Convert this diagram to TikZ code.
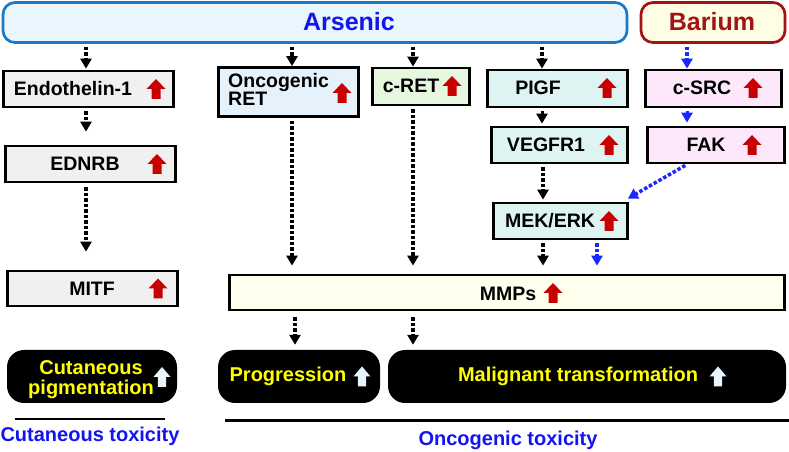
\documentclass[tikz,border=0pt]{standalone}
\usepackage{fontspec}
\setmainfont{Liberation Sans}
\usetikzlibrary{arrows.meta}
\usetikzlibrary{calc}

\definecolor{arsline}{RGB}{30,120,200}
\definecolor{arsfill}{RGB}{234,246,253}
\definecolor{arstext}{RGB}{20,20,240}
\definecolor{baline}{RGB}{160,20,20}
\definecolor{bafill}{RGB}{255,253,228}
\definecolor{grayfill}{RGB}{240,240,240}
\definecolor{retfill}{RGB}{230,242,251}
\definecolor{cretfill}{RGB}{229,247,222}
\definecolor{cyanfill}{RGB}{222,244,242}
\definecolor{pinkfill}{RGB}{252,232,250}
\definecolor{mmpfill}{RGB}{255,255,238}
\definecolor{upred}{RGB}{200,0,0}
\definecolor{upwhite}{RGB}{232,244,252}
\definecolor{outyellow}{RGB}{255,255,0}
\definecolor{arrblue}{RGB}{25,40,255}

\begin{document}
\begin{tikzpicture}[x=1pt,y=1pt,
    box/.style={draw,line width=2.7pt,inner sep=0pt,minimum height=36pt},
    lbl/.style={font=\fontsize{19.5}{18}\selectfont\bfseries,inner sep=0pt,text height=14pt,text depth=0pt},
    blk/.style={fill=black,rounded corners=17pt,inner sep=0pt,minimum height=53pt},
    ylbl/.style={font=\fontsize{20}{19.5}\selectfont\bfseries,text=outyellow,inner sep=0pt,align=center},
    toxlbl/.style={font=\fontsize{20}{20}\selectfont\bfseries,text=arstext,inner sep=0pt},
    dotarr/.style={line width=3.5pt,dash pattern=on 3.5pt off 2pt,-{Triangle[width=11pt,length=10pt]}},
    solarr/.style={line width=3pt,-{Triangle[width=11pt,length=10pt]}},
    uparr/.pic={\path[pic actions] (-4.5,-10) -- (-4.5,0) -- (-9.5,0) -- (0,10) -- (9.5,0) -- (4.5,0) -- (4.5,-10) -- cycle;}]
  \useasboundingbox (0,0) rectangle (789,452);

  % sources
  \node[box,draw=arsline,fill=arsfill,rounded corners=12pt,minimum width=624pt,minimum height=40pt] (arsenic) at (315,429.5) {};
  \node[font=\fontsize{25}{25}\selectfont\bfseries,text=arstext,inner sep=0pt] (arsenic-t) at (349,430) {Arsenic};
  \node[box,draw=baline,fill=bafill,rounded corners=12pt,minimum width=144pt,minimum height=40pt] (barium) at (713,429.5) {};
  \node[font=\fontsize{25}{25}\selectfont\bfseries,text=baline,inner sep=0pt] (barium-t) at (712,430) {Barium};

  % first row
  \node[box,fill=grayfill,minimum width=170pt] (edn) at (88.5,363) {};
  \node[lbl] (edn-t) at (73,363) {Endothelin-1};
  \pic[fill=upred] at (156,363) {uparr};
  \node[box,fill=retfill,minimum width=140pt,minimum height=49pt] (oret) at (288.5,360) {};
  \node[font=\fontsize{19.5}{18}\selectfont\bfseries,inner sep=0pt,align=left,anchor=west] (oret-t) at (228,363) {Oncogenic\\RET};
  \pic[fill=upred] at (342,359) {uparr};
  \node[box,fill=cretfill,minimum width=97pt,minimum height=37pt] (cret) at (421,365.5) {};
  \node[lbl] (cret-t) at (411,366) {c-RET};
  \pic[fill=upred] at (452,366) {uparr};
  \node[box,fill=cyanfill,minimum width=140pt,minimum height=37pt] (pigf) at (557.5,363.5) {};
  \node[lbl] (pigf-t) at (538,364) {PIGF};
  \pic[fill=upred] at (607,364) {uparr};
  \node[box,fill=pinkfill,minimum width=136pt,minimum height=37pt] (csrc) at (713.5,363.5) {};
  \node[lbl] (csrc-t) at (702,364) {c-SRC};
  \pic[fill=upred] at (753,364) {uparr};

  % second row
  \node[box,fill=grayfill,minimum width=170pt] (ednrb) at (90.5,288) {};
  \node[lbl] (ednrb-t) at (85,288) {EDNRB};
  \pic[fill=upred] at (157,288) {uparr};
  \node[box,fill=cyanfill,minimum width=136pt] (vegfr) at (559.5,307) {};
  \node[lbl] (vegfr-t) at (546,307) {VEGFR1};
  \pic[fill=upred] at (609,307) {uparr};
  \node[box,fill=pinkfill,minimum width=137pt] (fak) at (716,307) {};
  \node[lbl] (fak-t) at (706,307) {FAK};
  \pic[fill=upred] at (752,307) {uparr};
  \node[box,fill=cyanfill,minimum width=134pt] (mek) at (560.5,231) {};
  \node[lbl] (mek-t) at (550,231) {MEK/ERK};
  \pic[fill=upred] at (609,231) {uparr};

  % third row
  \node[box,fill=grayfill,minimum width=170pt,minimum height=35pt] (mitf) at (92.5,163.5) {};
  \node[lbl] (mitf-t) at (92,163.5) {MITF};
  \pic[fill=upred] at (158,163.5) {uparr};
  \node[box,fill=mmpfill,minimum width=555pt,minimum height=35pt] (mmps) at (507,159.5) {};
  \node[lbl] (mmps-t) at (508,158) {MMPs};
  \pic[fill=upred] at (553,159) {uparr};

  % outcomes
  \node[blk,minimum width=170pt] (pigm) at (92,75.5) {};
  \node[ylbl] (pigm-t) at (91,72.5) {Cutaneous\\pigmentation};
  \pic[fill=upwhite,xscale=0.9] at (162,75) {uparr};
  \node[blk,minimum width=162pt] (prog) at (299,75.5) {};
  \node[ylbl] (prog-t) at (288,75.5) {Progression};
  \pic[fill=upwhite,xscale=0.9] at (362,75.5) {uparr};
  \node[blk,minimum width=398pt] (malig) at (587,75.5) {};
  \node[ylbl] (malig-t) at (578,75.5) {Malignant transformation};
  \pic[fill=upwhite,xscale=0.9] at (718,75.5) {uparr};

  \draw[line width=2.5pt] (15,33) -- (165,33);
  \draw[line width=3pt] (225,31) -- (789,31);
  \node[toxlbl] (cuttox) at (90,16) {Cutaneous toxicity};
  \node[toxlbl] (onctox) at (508,12) {Oncogenic toxicity};

  % connectors
  \path[dotarr,shorten <=3pt,shorten >=1pt] ([xshift=-2.5pt]arsenic.south -| edn.north) edge ([xshift=-2.5pt]edn.north);
  \path[dotarr,shorten <=3pt] ([xshift=3.5pt]arsenic.south -| oret.north) edge ([xshift=3.5pt]oret.north);
  \path[dotarr,shorten <=3pt] ([xshift=-8pt]arsenic.south -| cret.north) edge ([xshift=-8pt]cret.north);
  \path[dotarr,shorten <=3pt] ([xshift=-15.5pt]arsenic.south -| pigf.north) edge ([xshift=-15.5pt]pigf.north);
  \path[dotarr,arrblue,shorten <=3pt] ([xshift=-26.5pt]barium.south -| csrc.north) edge ([xshift=-26.5pt]csrc.north);

  \path[dotarr,shorten <=3pt,shorten >=13pt] ([xshift=-2.5pt]edn.south) edge ([xshift=-2.5pt]edn.south |- ednrb.north);
  \path[dotarr,shorten <=4pt,shorten >=18pt] ([xshift=-4.5pt]ednrb.south) edge ([xshift=-4.5pt]ednrb.south |- mitf.north);
  \path[dotarr,shorten <=3pt,shorten >=8pt] ([xshift=3.5pt]oret.south) edge ([xshift=3.5pt]oret.south |- mmps.north);
  \path[dotarr,shorten <=3pt,shorten >=8pt] ([xshift=-8pt]cret.south) edge ([xshift=-8pt]cret.south |- mmps.north);

  \path[solarr,shorten <=3pt,shorten >=2pt] ([xshift=-15.5pt]pigf.south) edge ([xshift=-15.5pt]pigf.south |- vegfr.north);
  \path[dotarr,shorten <=3pt,shorten >=2pt] ([xshift=-16.5pt]vegfr.south) edge ([xshift=-16.5pt]vegfr.south |- mek.north);
  \path[solarr,arrblue,shorten <=3pt,shorten >=3pt] ([xshift=-26.5pt]csrc.south) edge ([xshift=-26.5pt]csrc.south |- fak.north);
  \path[dotarr,arrblue,shorten <=2pt] ([xshift=-29pt]fak.south) edge ([xshift=-1pt,yshift=3pt]mek.north east);
  \path[dotarr,shorten <=3pt,shorten >=8pt] ([xshift=-17.5pt]mek.south) edge ([xshift=-17.5pt]mek.south |- mmps.north);
  \path[dotarr,arrblue,shorten <=3pt,shorten >=8pt] ([xshift=36.5pt]mek.south) edge ([xshift=36.5pt]mek.south |- mmps.north);

  \path[dotarr,shorten <=6pt,shorten >=5pt] ([xshift=-4pt]prog.north |- mmps.south) edge ([xshift=-4pt]prog.north);
  \path[dotarr,shorten <=6pt,shorten >=5pt] ([xshift=-8pt]cret.south |- mmps.south) edge ([xshift=-8pt]cret.south |- malig.north);
\end{tikzpicture}
\end{document}
